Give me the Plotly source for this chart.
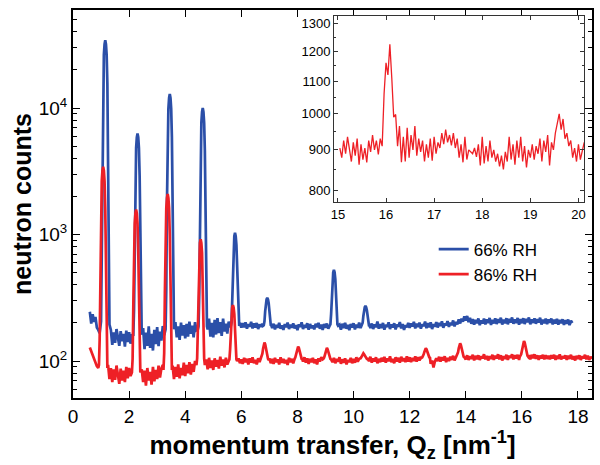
import numpy as np
import plotly.graph_objects as go

# ---------------- data ----------------
# background counts on a regular grid in Qz (nm^-1)
q_start = 0.60
q_step = 0.05

blue_bg = [
    245, 198, 234, 204, 223, 184, 176, 166,
    170, 168, 166, 164, 162, 160, 158, 176, 134, 168, 139, 179, 146, 132, 172, 143, 164, 130, 174, 141,
    169, 137, 160, 152, 155, 155, 155, 155, 155, 155, 182, 124, 168, 132, 188, 127, 164, 121, 176, 136,
    185, 131, 171, 145, 189, 160, 165, 165, 165, 165, 165, 165, 165, 203, 154, 188, 147, 201, 159, 192,
    151, 197, 156, 205, 164, 190, 154, 203, 175, 178, 178, 178, 178, 178, 178, 178, 178, 216, 156, 200,
    154, 211, 162, 218, 166, 203, 158, 216, 171, 197, 165, 205, 185, 188, 188, 188, 188, 188, 188, 200,
    184, 199, 185, 202, 180, 196, 187, 204, 181, 198, 184, 200, 179, 195, 186, 197, 190, 190, 190, 190,
    190, 190, 182, 197, 178, 193, 184, 200, 180, 191, 176, 196, 185, 201, 179, 194, 183, 198, 181, 192,
    175, 195, 186, 202, 179, 193, 184, 199, 177, 196, 182, 191, 178, 197, 185, 200, 180, 194, 176, 196,
    183, 198, 180, 190, 190, 190, 190, 190, 190, 190, 194, 177, 197, 182, 200, 180, 193, 175, 196, 184,
    199, 178, 194, 183, 201, 182, 190, 190, 190, 190, 190, 190, 182, 198, 179, 195, 185, 205, 180, 196,
    182, 200, 177, 193, 186, 202, 179, 195, 184, 199, 178, 194, 187, 203, 181, 196, 176, 192, 185, 200,
    183, 198, 188, 204, 181, 197, 186, 201, 180, 195, 189, 205, 182, 199, 185, 202, 179, 196, 187, 203,
    184, 200, 189, 206, 183, 198, 191, 207, 186, 201, 192, 209, 188, 204, 195, 213, 198, 216, 205, 225,
    209, 227, 203, 220, 197, 215, 194, 211, 199, 217, 192, 210, 198, 216, 195, 213, 200, 219, 193, 212,
    198, 217, 196, 214, 201, 220, 194, 212, 199, 218, 195, 215, 202, 221, 197, 213, 200, 219, 194, 214,
    199, 218, 196, 215, 203, 221, 195, 213, 200, 217, 197, 214, 202, 220, 194, 212, 199, 216, 196, 213,
    201, 217, 195, 212, 198, 215, 194, 211, 199, 214, 193, 210, 197, 213, 192, 208, 200,
]

red_bg = [
    128, 119, 113, 104, 99, 91, 88, 90,
    90, 90, 90, 90, 90, 93, 72, 88, 68, 86, 71, 92, 74, 66, 87, 70, 84, 68, 90, 73,
    88, 76, 80, 80, 80, 80, 80, 80, 80, 86, 68, 84, 64, 88, 70, 82, 65, 90, 69, 85,
    72, 92, 74, 87, 93, 82, 82, 82, 82, 82, 82, 92, 72, 90, 75, 94, 73, 88, 77, 97,
    76, 93, 80, 98, 78, 95, 82, 100, 90, 90, 90, 90, 90, 90, 90, 103, 86, 106, 88, 101,
    85, 105, 90, 102, 87, 108, 92, 103, 89, 106, 94, 100, 100, 100, 100, 100, 100, 100, 105, 96,
    103, 95, 106, 98, 104, 94, 105, 97, 107, 96, 102, 94, 105, 98, 102, 102, 102, 102, 102, 102,
    105, 96, 104, 95, 106, 98, 103, 94, 107, 97, 104, 96, 102, 93, 106, 98, 104, 96, 103, 103,
    103, 103, 103, 103, 99, 107, 97, 105, 95, 104, 98, 106, 96, 103, 94, 105, 99, 107, 97, 104,
    103, 103, 103, 103, 103, 98, 106, 96, 104, 99, 107, 95, 103, 97, 105, 94, 102, 98, 106, 96,
    104, 97, 107, 99, 104, 104, 104, 104, 104, 104, 104, 100, 108, 97, 105, 99, 107, 96, 104, 98,
    106, 99, 108, 97, 105, 100, 109, 98, 104, 96, 107, 99, 106, 97, 108, 100, 105, 98, 109, 99,
    107, 98, 106, 100, 109, 99, 107, 101, 108, 106, 106, 106, 106, 106, 106, 95, 101, 89, 99, 105,
    100, 108, 99, 107, 101, 109, 98, 106, 100, 108, 102, 110, 101, 107, 107, 107, 107, 107, 107, 107,
    103, 111, 102, 109, 104, 112, 101, 110, 103, 111, 102, 109, 105, 113, 103, 110, 101, 109, 104, 112,
    102, 110, 105, 113, 103, 111, 101, 109, 104, 112, 102, 110, 106, 113, 103, 111, 105, 112, 102, 108,
    108, 108, 108, 108, 108, 111, 103, 112, 105, 113, 104, 111, 102, 110, 105, 112, 103, 111, 104, 110,
    103, 111, 105, 112, 102, 110, 104, 113, 103, 109, 105, 111, 102, 110, 104, 112, 103, 109, 101, 110,
    104, 111, 102, 109, 105, 112, 103, 110, 102, 108, 104,
]

# Bragg peaks: sample offsets around each peak centre, and counts read at them
peak_offsets = [-0.15, -0.125, -0.10, -0.075, -0.05, -0.025, 0.0,
                0.025, 0.05, 0.075, 0.10, 0.125, 0.15]

blue_peak_centers = [1.15, 2.30, 3.45, 4.625, 5.775, 6.925, 9.30, 10.425]
blue_peak_counts = [
    [206, 720, 4620, 15580, 26190, 32010, 34400, 32000, 26180, 15570, 4610, 708, 194],
    [161, 253, 954, 2920, 4825, 5870, 6300, 5870, 4825, 2920, 954, 253, 161],
    [178, 369, 1821, 5896, 9844, 12009, 12900, 12009, 9844, 5896, 1821, 369, 178],
    [188, 335, 1455, 4598, 7643, 9312, 10000, 9312, 7643, 4598, 1455, 335, 188],
    [189, 201, 297, 567, 828, 971, 1030, 971, 828, 567, 297, 201, 189],
    [190, 192, 206, 247, 286, 307, 316, 307, 286, 247, 206, 192, 190],
    [190, 195, 234, 341, 445, 502, 525, 502, 445, 341, 234, 195, 190],
    [190, 191, 201, 227, 252, 266, 272, 266, 252, 227, 201, 191, 190],
]

red_peak_centers = [1.075, 2.25, 3.375, 4.55, 5.70, 6.825, 8.025, 9.05,
                    10.35, 12.575, 13.80, 16.075]
red_peak_counts = [
    [93, 146, 528, 1600, 2638, 3208, 3440, 3208, 2636, 1596, 522, 140, 88],
    [81, 104, 275, 755, 1220, 1475, 1580, 1475, 1220, 755, 275, 104, 81],
    [85, 115, 344, 986, 1608, 1950, 2090, 1950, 1608, 986, 344, 115, 85],
    [93, 105, 199, 463, 718, 858, 916, 858, 718, 463, 199, 105, 93],
    [100, 103, 123, 180, 235, 265, 277, 265, 235, 180, 123, 103, 100],
    [102, 104, 107, 114, 125, 136, 140, 136, 125, 114, 107, 104, 102],
    [103, 104, 107, 112, 119, 127, 130, 127, 119, 112, 107, 104, 103],
    [103, 104, 106, 111, 118, 124, 127, 124, 118, 111, 106, 104, 103],
    [104, 104, 105, 107, 110, 113, 115, 113, 110, 107, 105, 104, 104],
    [106, 107, 109, 113, 118, 124, 126, 124, 118, 113, 109, 107, 106],
    [107, 108, 111, 117, 126, 134, 138, 134, 126, 117, 111, 108, 107],
    [108, 110, 113, 120, 130, 140, 144, 140, 130, 120, 113, 110, 108],
]

# inset: 86% RH, high-Q region
inset_q_start = 15.04
inset_q_step = 0.04
inset_counts = [
    905, 880, 925, 890, 935, 905, 870, 920, 885, 930, 862, 915, 875, 905, 868, 925, 895, 940, 900, 925,
    888, 930, 910,
    1060, 1160, 1120, 1225, 1110, 990, 998, 910, 965, 868,
    935, 870, 960, 880, 940, 900, 965, 885, 930, 895,
    925, 870, 915, 880, 930, 872, 935, 890, 920, 905,
    945, 915, 955, 920, 940, 912, 945, 905, 930, 880,
    915, 868, 935, 875, 900, 895, 890, 905, 882, 915,
    860, 935, 865, 910, 870, 925, 880, 900, 870, 890,
    858, 885, 850, 895, 870, 935, 875, 915, 862, 925,
    880, 935, 870, 910, 855, 900, 880, 915, 875, 910,
    890, 930, 870, 925, 895, 940, 860, 920, 900, 945,
    975, 1000, 955, 985, 930, 945, 910, 925, 880, 905,
    870, 915, 875, 900, 920,
]

series_names = ["66% RH", "86% RH"]
x_ticks = [0, 2, 4, 6, 8, 10, 12, 14, 16, 18]
y_ticks = [100, 1000, 10000]
y_ticktext = ["10<sup>2</sup>", "10<sup>3</sup>", "10<sup>4</sup>"]
inset_x_ticks = [15, 16, 17, 18, 19, 20]
inset_y_ticks = [800, 900, 1000, 1100, 1200, 1300]


def assemble(bg, centers, counts):
    qb = np.round(q_start + q_step * np.arange(len(bg)), 4)
    cb = np.array(bg, dtype=float)
    keep = np.ones(len(qb), bool)
    qs, cs = [], []
    for c, pc in zip(centers, counts):
        lo, hi = c + peak_offsets[0], c + peak_offsets[-1]
        keep &= ~((qb >= lo - 1e-6) & (qb <= hi + 1e-6))
        qs.append(c + np.array(peak_offsets))
        cs.append(np.array(pc, dtype=float))
    q = np.concatenate([qb[keep]] + qs)
    y = np.concatenate([cb[keep]] + cs)
    order = np.argsort(q)
    return q[order], y[order]


bq, bc = assemble(blue_bg, blue_peak_centers, blue_peak_counts)
rq, rc = assemble(red_bg, red_peak_centers, red_peak_counts)
iq = inset_q_start + inset_q_step * np.arange(len(inset_counts))

BLUE = "#2b4fa8"
RED = "#ee2026"
FONT = "Liberation Sans, Arial, Helvetica, sans-serif"

fig = go.Figure()
fig.add_trace(go.Scatter(x=bq, y=bc, mode="lines", name=series_names[0],
                         line=dict(color=BLUE, width=2.7)))
fig.add_trace(go.Scatter(x=rq, y=rc, mode="lines", name=series_names[1],
                         line=dict(color=RED, width=2.7)))
fig.add_trace(go.Scatter(x=iq, y=inset_counts, mode="lines", showlegend=False,
                         line=dict(color=RED, width=1.3), xaxis="x2", yaxis="y2"))

minor_main = [v * m for v in (10, 100, 1000, 10000) for m in range(2, 10)]
minor_inset = [850, 950, 1050, 1150, 1250]

fig.update_layout(
    width=600, height=465,
    margin=dict(l=73, r=8, t=10, b=67, autoexpand=False),
    paper_bgcolor="white", plot_bgcolor="white",
    font=dict(family=FONT, color="black", size=19),
    showlegend=True,
    legend=dict(x=0.695, y=0.429, xanchor="left", yanchor="top",
                bgcolor="rgba(0,0,0,0)", font=dict(size=17),
                tracegroupgap=0, itemwidth=30),
    xaxis=dict(
        range=[0, 18.5], tickmode="array", tickvals=x_ticks, automargin=False,
        ticks="inside", ticklen=7, tickwidth=1.3, tickcolor="black",
        showline=True, linecolor="black", linewidth=2, mirror="ticks",
        showgrid=False, zeroline=False,
        tickfont=dict(size=19),
        title=dict(text="<b>momentum transfer, Q<sub>z</sub> [nm<sup>-1</sup>]</b>",
                   font=dict(size=26), standoff=5),
    ),
    yaxis=dict(
        type="log", range=[1.7075, 4.775], tickmode="array", automargin=False,
        tickvals=y_ticks, ticktext=y_ticktext,
        ticks="inside", ticklen=7, tickwidth=1.3, tickcolor="black",
        minor=dict(tickmode="array", tickvals=minor_main, ticks="inside",
                   ticklen=4, tickwidth=1, tickcolor="black", showgrid=False),
        showline=True, linecolor="black", linewidth=2, mirror="ticks",
        showgrid=False, zeroline=False,
        tickfont=dict(size=19),
        title=dict(text="<b>neutron counts</b>", font=dict(size=25), standoff=0),
    ),
    xaxis2=dict(
        domain=[0.503, 0.985], anchor="y2", range=[14.92, 20.12], automargin=False,
        tickmode="array", tickvals=inset_x_ticks,
        ticks="inside", ticklen=4, tickwidth=1, tickcolor="#333",
        showline=True, linecolor="#333", linewidth=1, mirror="ticks",
        showgrid=False, zeroline=False, tickfont=dict(size=13),
    ),
    yaxis2=dict(
        domain=[0.505, 0.9845], anchor="x2", type="log", automargin=False,
        range=[np.log10(773), np.log10(1330)],
        tickmode="array", tickvals=inset_y_ticks,
        ticktext=[str(v) for v in inset_y_ticks],
        ticks="inside", ticklen=4, tickwidth=1, tickcolor="#333",
        minor=dict(tickmode="array", tickvals=minor_inset, ticks="inside",
                   ticklen=2, tickwidth=1, tickcolor="#333", showgrid=False),
        showline=True, linecolor="#333", linewidth=1, mirror="ticks",
        showgrid=False, zeroline=False, tickfont=dict(size=13),
    ),
    shapes=[dict(type="rect", xref="x2 domain", yref="y2 domain",
                 x0=0, x1=1, y0=0, y1=1, fillcolor="white",
                 line=dict(width=0), layer="below")],
)

fig.write_html("out.html",
               config={"displayModeBar": False},
               post_script="document.body.style.margin='0';document.body.style.padding='0';")
